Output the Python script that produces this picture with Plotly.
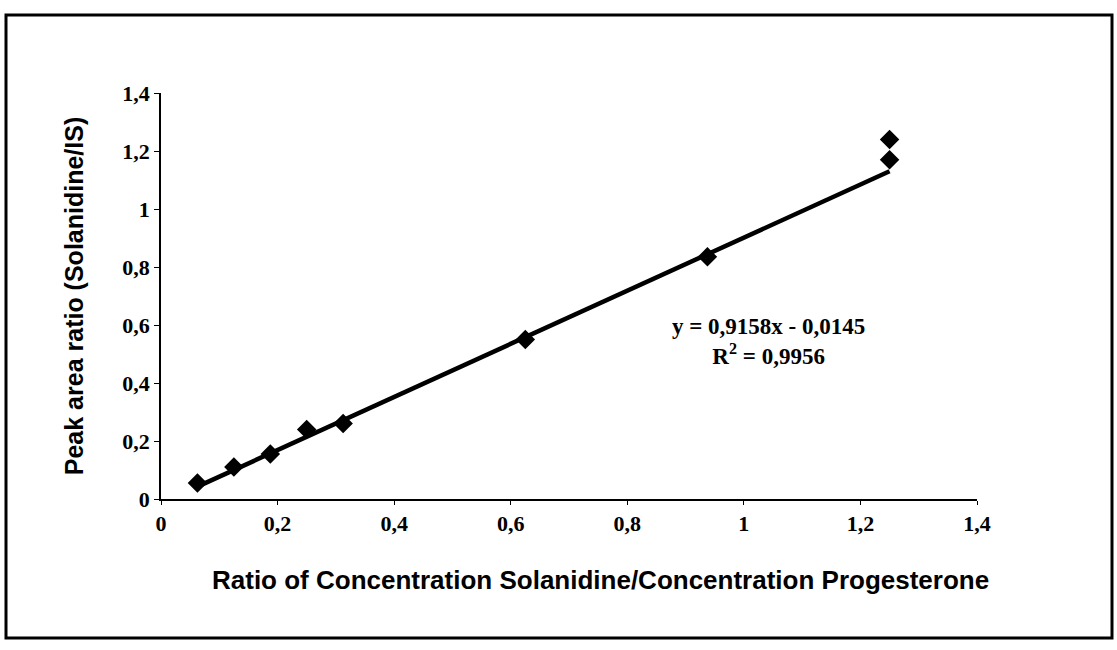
import plotly.graph_objects as go

# Data
x_ratio = [0.0625, 0.125, 0.1875, 0.25, 0.3125, 0.625, 0.9375, 1.25, 1.25]
peak_ratio = [0.055, 0.11, 0.155, 0.24, 0.26, 0.55, 0.835, 1.24, 1.17]
slope = 0.9158
intercept = -0.0145
r2 = 0.9956
tick_vals = [0, 0.2, 0.4, 0.6, 0.8, 1.0, 1.2, 1.4]
x_title = "Ratio of Concentration Solanidine/Concentration Progesterone"
y_title = "Peak area ratio (Solanidine/IS)"

x_fit = [min(x_ratio), max(x_ratio)]
y_fit = [slope * v + intercept for v in x_fit]

fig = go.Figure()
fig.add_trace(go.Scatter(x=x_fit, y=y_fit, mode="lines",
                         line=dict(color="black", width=4.5), showlegend=False))
fig.add_trace(go.Scatter(x=x_ratio, y=peak_ratio, mode="markers",
                         marker=dict(symbol="diamond", size=15, color="black"),
                         showlegend=False))

serif = "Liberation Serif"
sans = "Liberation Sans"

fig.update_layout(
    width=1117, height=650,
    margin=dict(l=161, r=140, t=93, b=151),
    paper_bgcolor="white", plot_bgcolor="white",
    separators=", ",
    xaxis=dict(range=[0, 1.4], tickvals=tick_vals, showgrid=False, zeroline=False,
               showline=True, linecolor="black", linewidth=1.5,
               ticks="outside", ticklen=4, tickcolor="black",
               tickfont=dict(family=serif, size=22, color="black", weight="bold")),
    yaxis=dict(range=[0, 1.4], tickvals=tick_vals, showgrid=False, zeroline=False,
               showline=True, linecolor="black", linewidth=1.5,
               ticks="outside", ticklen=5, tickcolor="black",
               tickfont=dict(family=serif, size=22, color="black", weight="bold"),
               title=dict(text=y_title,
                          font=dict(family=sans, size=25, color="black", weight="bold"),
                          standoff=32)),
    font=dict(family=serif, color="black"),
)

fig.add_annotation(
    x=(600 - 161) / 816, y=(499 - 580) / 406, xref="paper", yref="paper",
    xanchor="center", yanchor="middle",
    text=x_title, showarrow=False,
    font=dict(family=sans, size=26, color="black", weight="bold"),
)

fig.add_annotation(
    x=(768 - 161) / 816, y=(499 - 341) / 406, xref="paper", yref="paper",
    xanchor="center", yanchor="middle",
    text=f"y = {str(slope).replace('.', ',')}x - {str(abs(intercept)).replace('.', ',')}<br>R<sup>2</sup> = {str(r2).replace('.', ',')}",
    showarrow=False, align="center",
    font=dict(family=serif, size=23, color="black", weight="bold"),
)

fig.add_shape(type="rect", xref="paper", yref="paper",
              x0=(6 - 161) / 816, x1=(1112 - 161) / 816,
              y0=(499 - 638) / 406, y1=(499 - 15) / 406,
              line=dict(color="black", width=3))

fig.write_html("out.html")
